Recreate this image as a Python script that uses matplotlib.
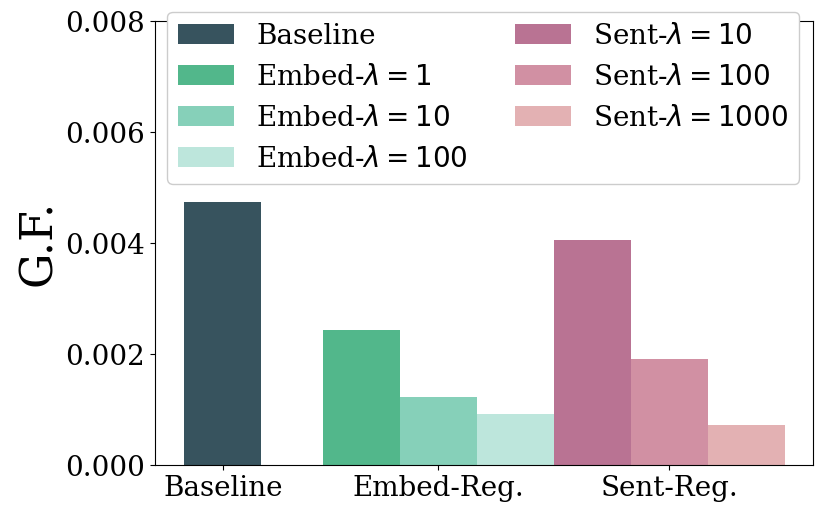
import numpy as np
import matplotlib
matplotlib.use("Agg")
import matplotlib.pyplot as plt

# values
groups = ['Baseline', 'Embed-Reg.', 'Sent-Reg.']
labels = ['Baseline', r'Embed-$\lambda=1$', r'Embed-$\lambda=10$', r'Embed-$\lambda=100$',
          r'Sent-$\lambda=10$', r'Sent-$\lambda=100$', r'Sent-$\lambda=1000$']
values = [0.00474, 0.00243, 0.00123, 0.00092, 0.00405, 0.00191, 0.00072]
colors = ['#37535e', '#52b78b', '#86d0b9', '#bde6dc', '#b97393', '#d190a3', '#e3b1b3']

# bar positions (in bar widths) and group tick positions
bar_x = [0.883, 2.68, 3.68, 4.68, 5.68, 6.68, 7.68]
tick_x = [0.883, 3.68, 6.68]

plt.rcParams['font.family'] = 'DejaVu Serif'

fig = plt.figure(figsize=(8.3, 5.19), dpi=100)
ax = fig.add_axes([0.1867, 0.104, 0.7928, 0.8555])

for x, v, c, lab in zip(bar_x, values, colors, labels):
    ax.bar(x, v, width=1.0, color=c, label=lab)

ax.set_xlim(0, 8.545)
ax.set_ylim(0, 0.008)
ax.set_yticks([0, 0.002, 0.004, 0.006, 0.008])
ax.set_yticklabels(['0.000', '0.002', '0.004', '0.006', '0.008'])
ax.set_xticks(tick_x)
ax.set_xticklabels(groups)
ax.tick_params(labelsize=20)
ax.set_ylabel('G.F.', fontsize=32)

ax.legend(ncol=2, fontsize=20, loc='upper right', bbox_to_anchor=(1.0, 1.052),
          framealpha=1.0, columnspacing=1.7)

fig.savefig('out.png', dpi=100)
